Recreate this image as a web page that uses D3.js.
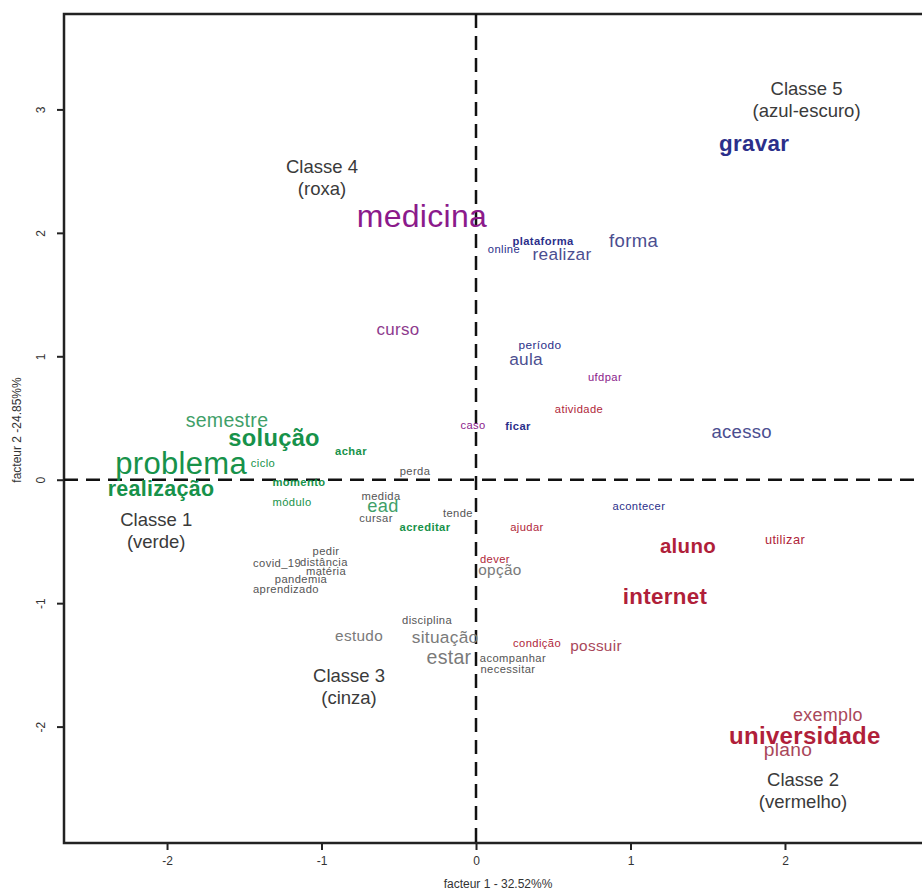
<!DOCTYPE html>
<html>
<head>
<meta charset="utf-8">
<script src="https://cdn.jsdelivr.net/npm/d3@7"></script>
<style>
  body { margin: 0; background: #fff; }
  svg text { font-family: "Liberation Sans", Arial, Helvetica, sans-serif; }
</style>
</head>
<body>
<svg id="chart" width="922" height="893"></svg>
<script>
// Correspondence analysis of the vocabulary (factor 1 x factor 2), words coloured by class
const terms = [
  "gravar", "forma", "realizar", "plataforma", "online", "período", "aula", "ficar", "acesso", "acontecer",
  "medicina", "curso", "ufdpar", "caso",
  "atividade", "ajudar", "utilizar", "aluno", "dever", "internet", "condição", "possuir", "exemplo", "universidade", "plano",
  "perda", "medida", "cursar", "tende", "pedir", "covid_19", "distância", "matéria", "pandemia", "aprendizado",
  "opção", "disciplina", "estudo", "situação", "estar", "acompanhar", "necessitar",
  "semestre", "solução", "achar", "problema", "ciclo", "momento", "realização", "módulo", "ead", "acreditar"
];
const factor1 = [
  1.80, 1.02, 0.557, 0.434, 0.181, 0.414, 0.324, 0.272, 1.72, 1.055,
  -0.35, -0.505, 0.835, -0.019,
  0.667, 0.33, 2.0, 1.372, 0.123, 1.223, 0.395, 0.777, 2.278, 2.129, 2.019,
  -0.395, -0.615, -0.647, -0.117, -0.971, -1.288, -0.984, -0.971, -1.133, -1.23,
  0.155, -0.317, -0.757, -0.2, -0.175, 0.239, 0.207,
  -1.612, -1.307, -0.809, -1.909, -1.379, -1.146, -2.039, -1.191, -0.602, -0.33
];
const factor2 = [
  2.72, 1.94, 1.83, 1.93, 1.87, 1.09, 0.98, 0.437, 0.389, -0.211,
  2.14, 1.215, 0.834, 0.445,
  0.575, -0.381, -0.486, -0.534, -0.64, -0.947, -1.32, -1.344, -1.903, -2.073, -2.186,
  0.073, -0.13, -0.308, -0.267, -0.575, -0.672, -0.664, -0.737, -0.802, -0.883,
  -0.729, -1.134, -1.263, -1.271, -1.433, -1.441, -1.53,
  0.486, 0.34, 0.235, 0.13, 0.138, -0.016, -0.073, -0.178, -0.21, -0.381
];
const chi2 = [
  70, 58, 54, 35, 35, 37, 54, 35, 58, 35,
  100, 53, 35, 35,
  35, 35, 40, 64, 35, 70, 35, 48, 56, 75, 60,
  35, 35, 35, 35, 35, 35, 35, 35, 35, 35,
  48, 35, 48, 54, 61, 35, 35,
  61, 74, 35, 97, 35, 35, 67, 35, 57, 35
];
const classe = [
  5, 5, 5, 5, 5, 5, 5, 5, 5, 5,
  4, 4, 4, 4,
  2, 2, 2, 2, 2, 2, 2, 2, 2, 2, 2,
  3, 3, 3, 3, 3, 3, 3, 3, 3, 3,
  3, 3, 3, 3, 3, 3, 3,
  1, 1, 1, 1, 1, 1, 1, 1, 1, 1
];

// Class captions and where they sit on the factor plane
const classIds = [1, 2, 3, 4, 5];
const classTitles = ["Classe 1", "Classe 2", "Classe 3", "Classe 4", "Classe 5"];
const classColourNames = ["(verde)", "(vermelho)", "(cinza)", "(roxa)", "(azul-escuro)"];
const classLabelF1 = [-2.07, 2.117, -0.822, -0.997, 2.14];
const classLabelF2 = [-0.32, -2.43, -1.587, 2.54, 3.166];

const xTicks = [-2, -1, 0, 1, 2];
const yTicks = [-2, -1, 0, 1, 2, 3];
const xTitle = "facteur 1 - 32.52%%";
const yTitle = "facteur 2 -24.85%%";

// Styling
const strongColour = { 1: "#17924a", 2: "#b01f3a", 3: "#555555", 4: "#8b1a8b", 5: "#2b2f8a" };
const lightColour  = { 1: "#3f9f69", 2: "#a9475a", 3: "#7a7a7a", 4: "#8d3a8d", 5: "#4b4e90" };
const boldTerms = new Set(["gravar", "aluno", "internet", "universidade", "solução", "realização",
  "achar", "momento", "acreditar", "ficar", "plataforma"]);

const svg = d3.select("#chart");
const plotLeft = 64, plotTop = 14, plotBottom = 843, plotRight = 922;

const x = d3.scaleLinear().domain([-2.667, 2.887]).range([plotLeft, plotRight]);
const y = d3.scaleLinear().domain([-2.943, 3.773]).range([plotBottom, plotTop]);
const size = d3.scaleLinear().domain([0, 100]).range([0, 32]);

// Axes
const xAxis = svg.append("g")
  .attr("transform", `translate(0,${plotBottom})`)
  .call(d3.axisBottom(x).tickValues(xTicks).tickSize(7).tickSizeOuter(0).tickFormat(d => String(d)));
xAxis.select(".domain").remove();
xAxis.selectAll(".tick line").attr("stroke", "#222").attr("stroke-width", 2);
xAxis.selectAll(".tick text").attr("font-size", 12).attr("fill", "#333").attr("y", 13);

const yAxis = svg.append("g")
  .attr("transform", `translate(${plotLeft},0)`)
  .call(d3.axisLeft(y).tickValues(yTicks).tickSize(7).tickSizeOuter(0).tickFormat(d => String(d)));
yAxis.select(".domain").remove();
yAxis.selectAll(".tick line").attr("stroke", "#222").attr("stroke-width", 2);
yAxis.selectAll(".tick text")
  .attr("font-size", 12).attr("fill", "#333")
  .attr("x", null).attr("dy", null)
  .attr("text-anchor", "middle")
  .attr("dominant-baseline", "central")
  .attr("transform", "translate(-23,0) rotate(-90)");

// Plot frame (open on the right, beyond the page edge)
svg.append("rect")
  .attr("x", plotLeft).attr("y", plotTop)
  .attr("width", plotRight - plotLeft + 20).attr("height", plotBottom - plotTop)
  .attr("fill", "none").attr("stroke", "#222").attr("stroke-width", 2.5);

// Origin lines
svg.append("line")
  .attr("x1", x(0)).attr("x2", x(0)).attr("y1", plotTop).attr("y2", plotBottom)
  .attr("stroke", "#111").attr("stroke-width", 2.5).attr("stroke-dasharray", "14,8");
svg.append("line")
  .attr("x1", plotLeft).attr("x2", plotRight).attr("y1", y(0)).attr("y2", y(0))
  .attr("stroke", "#111").attr("stroke-width", 2.5).attr("stroke-dasharray", "14,8");

// Axis titles
svg.append("text")
  .attr("x", 498).attr("y", 888)
  .attr("text-anchor", "middle").attr("font-size", 12).attr("fill", "#333")
  .text(xTitle);
svg.append("text")
  .attr("transform", "translate(17,430) rotate(-90)")
  .attr("text-anchor", "middle").attr("dominant-baseline", "central")
  .attr("font-size", 12).attr("fill", "#333")
  .text(yTitle);

// Class captions
const captions = svg.append("g").selectAll("text")
  .data(classIds)
  .join("text")
  .attr("text-anchor", "middle")
  .attr("font-size", 18.5)
  .attr("fill", "#3a3a3a");
captions.append("tspan")
  .attr("x", (d, i) => x(classLabelF1[i]))
  .attr("y", (d, i) => y(classLabelF2[i]))
  .attr("dy", "0.35em")
  .text((d, i) => classTitles[i]);
captions.append("tspan")
  .attr("x", (d, i) => x(classLabelF1[i]))
  .attr("dy", 22)
  .text((d, i) => classColourNames[i]);

// Words
const idx = d3.range(terms.length);
svg.append("g").selectAll("text")
  .data(idx)
  .join("text")
  .attr("x", i => x(factor1[i]))
  .attr("y", i => y(factor2[i]))
  .attr("text-anchor", "middle")
  .attr("dominant-baseline", "central")
  .attr("font-size", i => size(chi2[i]))
  .attr("font-weight", i => boldTerms.has(terms[i]) ? "bold" : "normal")
  .attr("letter-spacing", i => size(chi2[i]) < 13 ? 0.4 : 0.3)
  .attr("fill", i => {
    const fs = size(chi2[i]);
    if (boldTerms.has(terms[i]) || fs < 13 || fs >= 30) return strongColour[classe[i]];
    return lightColour[classe[i]];
  })
  .text(i => terms[i]);
</script>
</body>
</html>
